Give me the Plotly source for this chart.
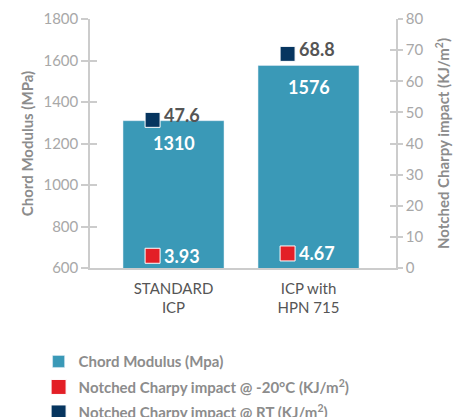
import plotly.graph_objects as go

categories = ["STANDARD<br>ICP", "ICP with<br>HPN 715"]
chord_modulus = [1310, 1576]
charpy_minus20 = [3.93, 4.67]
charpy_rt = [47.6, 68.8]
chord_labels = ["1310", "1576"]
minus20_labels = ["3.93", "4.67"]
rt_labels = ["47.6", "68.8"]

BAR = "#3a99b7"
RED = "#e31f26"
NAVY = "#06355f"
FONT = "Lato"

xpos = list(range(len(categories)))
mx = [p - 0.155 for p in xpos]

fig = go.Figure()
fig.add_trace(go.Bar(
    x=xpos, y=chord_modulus, width=0.748, marker_color=BAR,
    name="Chord Modulus (Mpa)", legendgroup="a", yaxis="y",
))
fig.add_trace(go.Scatter(
    x=mx, y=charpy_minus20, mode="markers", yaxis="y2",
    marker=dict(symbol="square", size=15, color=RED, line=dict(color="white", width=1)),
    name="Notched Charpy impact @ -20°C (KJ/m<sup>2</sup>)", legendgroup="b",
))
fig.add_trace(go.Scatter(
    x=mx, y=charpy_rt, mode="markers", yaxis="y2",
    marker=dict(symbol="square", size=15, color=NAVY, line=dict(color="white", width=1)),
    name="Notched Charpy impact @ RT (KJ/m<sup>2</sup>)", legendgroup="c",
))

for p, v, t in zip(xpos, chord_modulus, chord_labels):
    fig.add_annotation(x=p, y=v, xref="x", yref="y", text=t, showarrow=False,
                       yshift=-22, font=dict(family=FONT, size=18, color="white", weight="bold"))
for p, v, t in zip(mx, charpy_minus20, minus20_labels):
    fig.add_annotation(x=p, y=v, xref="x", yref="y2", text=t, showarrow=False,
                       xanchor="left", xshift=9, yshift=0,
                       font=dict(family=FONT, size=18, color="white", weight="bold"))
for p, v, t in zip(mx, charpy_rt, rt_labels):
    fig.add_annotation(x=p, y=v, xref="x", yref="y2", text=t, showarrow=False,
                       xanchor="left", xshift=9, yshift=5,
                       font=dict(family=FONT, size=18, color="#555555", weight="bold"))

axis_col = "#cccccc"
tick_font = dict(family=FONT, size=15, color="#a8a8a8")
title_font = dict(family=FONT, size=15, color="#8c8c8c", weight="bold")

fig.update_layout(
    width=467, height=417,
    margin=dict(l=82, r=79, t=11, b=157, autoexpand=False),
    paper_bgcolor="white", plot_bgcolor="white",
    showlegend=True,
    legend=dict(x=-0.168, xref="paper", y=-0.31, yanchor="top", orientation="v",
                traceorder="grouped", tracegroupgap=3,
                font=dict(family=FONT, size=15, color="#8c8c8c", weight="bold"),
                xanchor="left"),
    xaxis=dict(range=[-0.6185, 1.648], tickvals=xpos, ticktext=categories,
               showline=True, linecolor=axis_col, linewidth=1.5, ticks="",
               ticklabelstandoff=6,
               tickfont=dict(family=FONT, size=15, color="#555555"), showgrid=False, zeroline=False),
    yaxis=dict(range=[600, 1800], dtick=200, showgrid=False, zeroline=False,
               showline=True, linecolor=axis_col, linewidth=1.5, ticks="outside", ticklen=7,
               tickcolor=axis_col, tickwidth=1.5, tickfont=tick_font,
               title=dict(text="Chord Modulus (MPa)", font=title_font, standoff=6)),
    yaxis2=dict(range=[0, 80], dtick=10, overlaying="y", side="right", showgrid=False,
                zeroline=False, showline=True, linecolor=axis_col, linewidth=1.5,
                ticks="outside", ticklen=5, tickcolor=axis_col, tickwidth=1.5, tickfont=tick_font,
                title=dict(text="Notched Charpy impact (KJ/m<sup>2</sup>)", font=title_font, standoff=16)),
    yaxis3=dict(range=[600, 1800], dtick=200, overlaying="y", side="left", showgrid=False,
                zeroline=False, showline=False, ticks="inside", ticklen=7, tickcolor=axis_col,
                tickwidth=1.5, showticklabels=False),
    yaxis4=dict(range=[0, 80], dtick=10, overlaying="y", side="right", showgrid=False,
                zeroline=False, showline=False, ticks="inside", ticklen=6, tickcolor=axis_col,
                tickwidth=1.5, showticklabels=False),
)
fig.add_trace(go.Scatter(x=[None], y=[None], yaxis="y3", showlegend=False, hoverinfo="skip"))
fig.add_trace(go.Scatter(x=[None], y=[None], yaxis="y4", showlegend=False, hoverinfo="skip"))

fig.write_html("out.html")
